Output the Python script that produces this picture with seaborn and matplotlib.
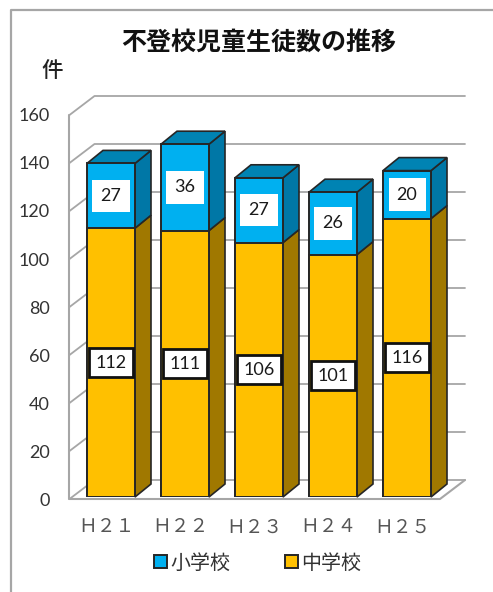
import numpy as np
import pandas as pd
import matplotlib
matplotlib.use("Agg")
import matplotlib.pyplot as plt
import seaborn as sns
from matplotlib.patches import Polygon, Patch
from matplotlib.lines import Line2D
from matplotlib.transforms import ScaledTranslation

years = ["Ｈ２１", "Ｈ２２", "Ｈ２３", "Ｈ２４", "Ｈ２５"]
junior = [112, 111, 106, 101, 116]
elementary = [27, 36, 27, 26, 20]
y_ticks = [0, 20, 40, 60, 80, 100, 120, 140, 160]
title = "不登校児童生徒数の推移"
unit = "件"

CJK = ["Noto Sans CJK JP", "DejaVu Sans"]
sns.set_theme(style="white")
plt.rcParams["font.family"] = CJK

W, H = 493, 592
BLUE, BLUE_D, BLUE_T = "#00B0F0", "#0077A6", "#0083B3"
YEL, YEL_D = "#FFC000", "#A07800"
GRID = "#A6A6A6"
EDGE = "#262626"

fig = plt.figure(figsize=(W / 100, H / 100), dpi=100, facecolor="white")
# image pixels -> axes: y=0 at row 497, 2.4 px per unit, bars 74 px apart
ax = fig.add_axes([69.5 / W, (H - 497) / H, 370.5 / W, 384 / H])
ax.set_facecolor("none")

df = pd.DataFrame({"year": years, "junior": junior, "elementary": elementary})
df["total"] = df["junior"] + df["elementary"]

bw = 48 / 74
sns.barplot(data=df, x="year", y="total", color=BLUE, saturation=1, width=bw,
            edgecolor=EDGE, linewidth=1.4, ax=ax, zorder=5)
sns.barplot(data=df, x="year", y="junior", color=YEL, saturation=1, width=bw,
            edgecolor=EDGE, linewidth=1.4, ax=ax, zorder=6)

px = 1 / 74
py = 1 / 2.4
ax.set_xlim(-41.5 * px, 329 * px)
ax.set_ylim(0, 160)
ax.set_xlabel("")
ax.set_ylabel("")
sns.despine(ax=ax, left=True, bottom=True, top=True, right=True)

# chart walls, grid and floor
xl, xr = ax.get_xlim()
ddx, ddy = 25 * px, 19 * py
front = -2 * py
for v in y_ticks:
    y0 = v + front
    ax.plot([xl, xl + ddx, xr + ddx], [y0, y0 + ddy, y0 + ddy], color=GRID, lw=1.3,
            clip_on=False, zorder=1)
ax.plot([xl, xl], [front, y_ticks[-1] + front], color=GRID, lw=1.5, clip_on=False, zorder=1)
ax.plot([xl, xr, xr + ddx], [front, front, front + ddy], color=GRID, lw=1.5,
        clip_on=False, zorder=1)

# 3-D faces computed from the data
dx, dy = 16 * px, 13 * py
for i, (a, b) in enumerate(zip(junior, elementary)):
    r = i + bw / 2
    l = i - bw / 2
    t = a + b
    faces = [
        ([(r, 0), (r + dx, dy), (r + dx, a + dy), (r, a)], YEL_D),
        ([(r, a), (r + dx, a + dy), (r + dx, t + dy), (r, t)], BLUE_D),
        ([(l, t), (l + dx, t + dy), (r + dx, t + dy), (r, t)], BLUE_T),
    ]
    for pts, c in faces:
        ax.add_patch(Polygon(pts, closed=True, facecolor=c, edgecolor=EDGE, lw=1.2,
                             clip_on=False, zorder=4))
    ax.text(i, a / 2, str(a), ha="center", va="center", fontsize=13, color="#1a1a1a",
            family="Lato", zorder=8,
            bbox=dict(boxstyle="square,pad=0.36", fc="white", ec="#111111", lw=2))
    ax.text(i, a + b / 2, str(b), ha="center", va="center", fontsize=13, color="#1a1a1a",
            family="Lato", zorder=8,
            bbox=dict(boxstyle="square,pad=0.45", fc="white", ec="none"))

# ticks
ax.set_yticks(y_ticks)
ax.set_yticklabels([str(v) for v in y_ticks], family="Lato", fontsize=13, color="#333333")
ax.tick_params(axis="y", length=0, pad=14)
ax.tick_params(axis="x", length=0, pad=14)
ax.set_xticks(range(len(years)))
ax.set_xticklabels(years, fontsize=13.5, color="#555555")
off_y = ScaledTranslation(0, -2 / 100, fig.dpi_scale_trans)
off_x = ScaledTranslation(-5 / 100, 0, fig.dpi_scale_trans)
for lab in ax.get_yticklabels():
    lab.set_transform(lab.get_transform() + off_y)
for lab in ax.get_xticklabels():
    lab.set_transform(lab.get_transform() + off_x)
ax.grid(False)

# titles
fig.text(258.5 / W, 1 - 43 / H, title, ha="center", va="center", fontsize=18,
         fontweight="bold", color="#111111")
fig.text(52 / W, 1 - 71 / H, unit, ha="center", va="center", fontsize=15.5,
         fontweight="medium", color="#222222")

# legend
handles = [Patch(facecolor=BLUE, edgecolor=EDGE, lw=1.4, label="小学校"),
           Patch(facecolor=YEL, edgecolor=EDGE, lw=1.4, label="中学校")]
fig.legend(handles=handles, ncols=2, frameon=False, loc="center",
           bbox_to_anchor=(257.5 / W, 1 - 563 / H), fontsize=14.4,
           handlelength=0.66, handleheight=0.66, handletextpad=0.15,
           columnspacing=2.75, labelcolor="#333333")

# chart frame
fig.add_artist(Line2D([11 / W, 11 / W, 1], [0, 1 - 10 / H, 1 - 10 / H],
                      color="#A6A6A6", lw=1.6))

fig.savefig("out.png", dpi=100)
